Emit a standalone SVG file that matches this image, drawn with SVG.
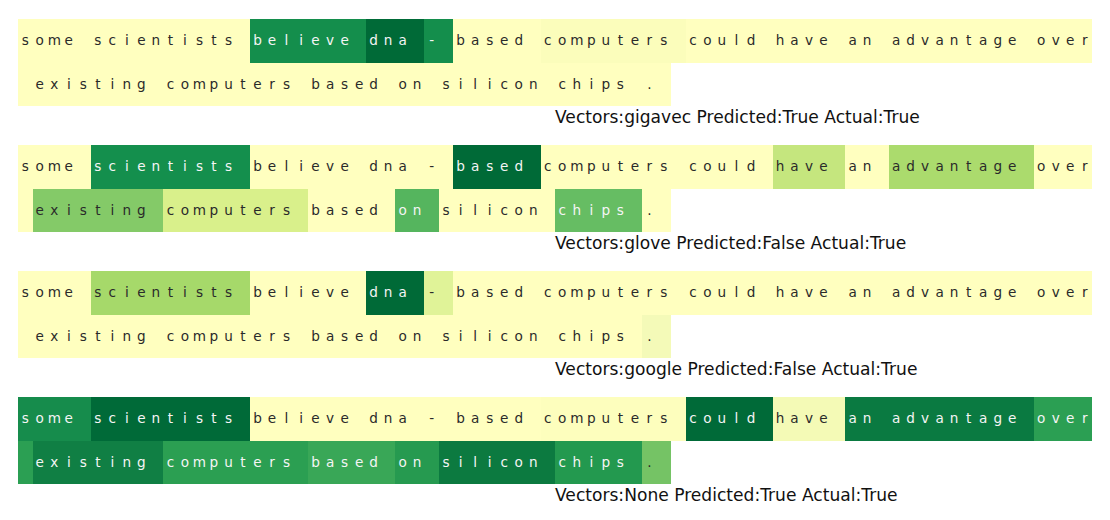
<svg xmlns="http://www.w3.org/2000/svg" width="1110" height="520" viewBox="0 0 1110 520">
<style>
text{font-family:"DejaVu Sans","Liberation Sans",sans-serif}
.t{font-size:13.6px;text-anchor:middle}
.d{fill:#2a2a2a}
.w{fill:#f5f5f5}
.cap{font-size:17.1px;fill:#111}
.Y{fill:#ffffbf}
rect{stroke:none;shape-rendering:crispEdges}
</style>
<rect width="1110" height="520" fill="#ffffff"/>

<g id="row-gigavec" transform="translate(0,19)">
<g id="r1-some"><rect class="Y" x="18" y="0" width="72.57" height="43.7"/><text class="t d" x="25.26 39.77 54.29 68.80" y="26.3">some</text></g>
<g id="r1-scientists"><rect class="Y" x="90.57" y="0" width="159.65" height="43.7"/><text class="t d" x="97.83 112.34 126.86 141.37 155.89 170.40 184.91 199.43 213.94 228.46" y="26.3">scientists</text></g>
<g id="r1-believe"><rect fill="#148e4c" x="250.22" y="0" width="116.12" height="43.7"/><text class="t w" x="257.48 272.00 286.51 301.03 315.54 330.05 344.57" y="26.3">believe</text></g>
<g id="r1-dna"><rect fill="#006a37" x="366.34" y="0" width="58.05" height="43.7"/><text class="t w" x="373.60 388.11 402.62" y="26.3">dna</text></g>
<g id="r1-hyphen"><rect fill="#148e4c" x="424.39" y="0" width="29.03" height="43.7"/><text class="t w" x="431.65" y="26.3">-</text></g>
<g id="r1-based"><rect class="Y" x="453.42" y="0" width="87.08" height="43.7"/><text class="t d" x="460.68 475.19 489.71 504.22 518.74" y="26.3">based</text></g>
<g id="r1-computers"><rect fill="#fbfdbb" x="540.50" y="0" width="145.14" height="43.7"/><text class="t d" x="547.76 562.28 576.79 591.31 605.82 620.33 634.85 649.36 663.88" y="26.3">computers</text></g>
<g id="r1-could"><rect class="Y" x="685.64" y="0" width="87.09" height="43.7"/><text class="t d" x="692.90 707.42 721.93 736.45 750.96" y="26.3">could</text></g>
<g id="r1-have"><rect class="Y" x="772.73" y="0" width="72.57" height="43.7"/><text class="t d" x="779.99 794.50 809.02 823.53" y="26.3">have</text></g>
<g id="r1-an"><rect class="Y" x="845.30" y="0" width="43.54" height="43.7"/><text class="t d" x="852.56 867.07" y="26.3">an</text></g>
<g id="r1-advantage"><rect class="Y" x="888.84" y="0" width="145.14" height="43.7"/><text class="t d" x="896.10 910.61 925.13 939.64 954.16 968.67 983.18 997.70 1012.21" y="26.3">advantage</text></g>
<g id="r1-over"><rect class="Y" x="1033.98" y="0" width="58.06" height="43.7"/><rect class="Y" x="18" y="43.7" width="14.51" height="43.7"/><text class="t d" x="1041.24 1055.75 1070.27 1084.78" y="26.3">over</text></g>
<g id="r1-existing"><rect class="Y" x="32.51" y="43.7" width="130.63" height="43.7"/><text class="t d" x="39.77 54.29 68.80 83.32 97.83 112.34 126.86 141.37" y="70.3">existing</text></g>
<g id="r1-computers2"><rect class="Y" x="163.14" y="43.7" width="145.14" height="43.7"/><text class="t d" x="170.40 184.91 199.43 213.94 228.46 242.97 257.48 272.00 286.51" y="70.3">computers</text></g>
<g id="r1-based2"><rect class="Y" x="308.28" y="43.7" width="87.08" height="43.7"/><text class="t d" x="315.54 330.05 344.57 359.08 373.60" y="70.3">based</text></g>
<g id="r1-on"><rect class="Y" x="395.36" y="43.7" width="43.55" height="43.7"/><text class="t d" x="402.62 417.14" y="70.3">on</text></g>
<g id="r1-silicon"><rect class="Y" x="438.91" y="43.7" width="116.11" height="43.7"/><text class="t d" x="446.17 460.68 475.19 489.71 504.22 518.74 533.25" y="70.3">silicon</text></g>
<g id="r1-chips"><rect class="Y" x="555.02" y="43.7" width="87.08" height="43.7"/><text class="t d" x="562.28 576.79 591.31 605.82 620.33" y="70.3">chips</text></g>
<g id="r1-period"><rect class="Y" x="642.10" y="43.7" width="29.03" height="43.7"/><text class="t d" x="649.36" y="70.3">.</text></g>
<text class="cap" x="555" y="103.7">Vectors:gigavec Predicted:True Actual:True</text>
</g>

<g id="row-glove" transform="translate(0,145)">
<g id="r2-some"><rect class="Y" x="18" y="0" width="72.57" height="43.7"/><text class="t d" x="25.26 39.77 54.29 68.80" y="26.3">some</text></g>
<g id="r2-scientists"><rect fill="#148f4d" x="90.57" y="0" width="159.65" height="43.7"/><text class="t w" x="97.83 112.34 126.86 141.37 155.89 170.40 184.91 199.43 213.94 228.46" y="26.3">scientists</text></g>
<g id="r2-believe"><rect class="Y" x="250.22" y="0" width="116.12" height="43.7"/><text class="t d" x="257.48 272.00 286.51 301.03 315.54 330.05 344.57" y="26.3">believe</text></g>
<g id="r2-dna"><rect class="Y" x="366.34" y="0" width="58.05" height="43.7"/><text class="t d" x="373.60 388.11 402.62" y="26.3">dna</text></g>
<g id="r2-hyphen"><rect class="Y" x="424.39" y="0" width="29.03" height="43.7"/><text class="t d" x="431.65" y="26.3">-</text></g>
<g id="r2-based"><rect fill="#006a37" x="453.42" y="0" width="87.08" height="43.7"/><text class="t w" x="460.68 475.19 489.71 504.22 518.74" y="26.3">based</text></g>
<g id="r2-computers"><rect class="Y" x="540.50" y="0" width="145.14" height="43.7"/><text class="t d" x="547.76 562.28 576.79 591.31 605.82 620.33 634.85 649.36 663.88" y="26.3">computers</text></g>
<g id="r2-could"><rect class="Y" x="685.64" y="0" width="87.09" height="43.7"/><text class="t d" x="692.90 707.42 721.93 736.45 750.96" y="26.3">could</text></g>
<g id="r2-have"><rect fill="#c5e67e" x="772.73" y="0" width="72.57" height="43.7"/><text class="t d" x="779.99 794.50 809.02 823.53" y="26.3">have</text></g>
<g id="r2-an"><rect class="Y" x="845.30" y="0" width="43.54" height="43.7"/><text class="t d" x="852.56 867.07" y="26.3">an</text></g>
<g id="r2-advantage"><rect fill="#abdb6d" x="888.84" y="0" width="145.14" height="43.7"/><text class="t d" x="896.10 910.61 925.13 939.64 954.16 968.67 983.18 997.70 1012.21" y="26.3">advantage</text></g>
<g id="r2-over"><rect class="Y" x="1033.98" y="0" width="58.06" height="43.7"/><rect class="Y" x="18" y="43.7" width="14.51" height="43.7"/><text class="t d" x="1041.24 1055.75 1070.27 1084.78" y="26.3">over</text></g>
<g id="r2-existing"><rect fill="#84ca68" x="32.51" y="43.7" width="130.63" height="43.7"/><text class="t d" x="39.77 54.29 68.80 83.32 97.83 112.34 126.86 141.37" y="70.3">existing</text></g>
<g id="r2-computers2"><rect fill="#d9f08b" x="163.14" y="43.7" width="145.14" height="43.7"/><text class="t d" x="170.40 184.91 199.43 213.94 228.46 242.97 257.48 272.00 286.51" y="70.3">computers</text></g>
<g id="r2-based2"><rect class="Y" x="308.28" y="43.7" width="87.08" height="43.7"/><text class="t d" x="315.54 330.05 344.57 359.08 373.60" y="70.3">based</text></g>
<g id="r2-on"><rect fill="#55b55e" x="395.36" y="43.7" width="43.55" height="43.7"/><text class="t w" x="402.62 417.14" y="70.3">on</text></g>
<g id="r2-silicon"><rect class="Y" x="438.91" y="43.7" width="116.11" height="43.7"/><text class="t d" x="446.17 460.68 475.19 489.71 504.22 518.74 533.25" y="70.3">silicon</text></g>
<g id="r2-chips"><rect fill="#66bd63" x="555.02" y="43.7" width="87.08" height="43.7"/><text class="t w" x="562.28 576.79 591.31 605.82 620.33" y="70.3">chips</text></g>
<g id="r2-period"><rect class="Y" x="642.10" y="43.7" width="29.03" height="43.7"/><text class="t d" x="649.36" y="70.3">.</text></g>
<text class="cap" x="555" y="103.7">Vectors:glove Predicted:False Actual:True</text>
</g>

<g id="row-google" transform="translate(0,271)">
<g id="r3-some"><rect class="Y" x="18" y="0" width="72.57" height="43.7"/><text class="t d" x="25.26 39.77 54.29 68.80" y="26.3">some</text></g>
<g id="r3-scientists"><rect fill="#a6d96a" x="90.57" y="0" width="159.65" height="43.7"/><text class="t d" x="97.83 112.34 126.86 141.37 155.89 170.40 184.91 199.43 213.94 228.46" y="26.3">scientists</text></g>
<g id="r3-believe"><rect class="Y" x="250.22" y="0" width="116.12" height="43.7"/><text class="t d" x="257.48 272.00 286.51 301.03 315.54 330.05 344.57" y="26.3">believe</text></g>
<g id="r3-dna"><rect fill="#006a37" x="366.34" y="0" width="58.05" height="43.7"/><text class="t w" x="373.60 388.11 402.62" y="26.3">dna</text></g>
<g id="r3-hyphen"><rect fill="#e0f398" x="424.39" y="0" width="29.03" height="43.7"/><text class="t d" x="431.65" y="26.3">-</text></g>
<g id="r3-based"><rect class="Y" x="453.42" y="0" width="87.08" height="43.7"/><text class="t d" x="460.68 475.19 489.71 504.22 518.74" y="26.3">based</text></g>
<g id="r3-computers"><rect class="Y" x="540.50" y="0" width="145.14" height="43.7"/><text class="t d" x="547.76 562.28 576.79 591.31 605.82 620.33 634.85 649.36 663.88" y="26.3">computers</text></g>
<g id="r3-could"><rect class="Y" x="685.64" y="0" width="87.09" height="43.7"/><text class="t d" x="692.90 707.42 721.93 736.45 750.96" y="26.3">could</text></g>
<g id="r3-have"><rect class="Y" x="772.73" y="0" width="72.57" height="43.7"/><text class="t d" x="779.99 794.50 809.02 823.53" y="26.3">have</text></g>
<g id="r3-an"><rect class="Y" x="845.30" y="0" width="43.54" height="43.7"/><text class="t d" x="852.56 867.07" y="26.3">an</text></g>
<g id="r3-advantage"><rect class="Y" x="888.84" y="0" width="145.14" height="43.7"/><text class="t d" x="896.10 910.61 925.13 939.64 954.16 968.67 983.18 997.70 1012.21" y="26.3">advantage</text></g>
<g id="r3-over"><rect class="Y" x="1033.98" y="0" width="58.06" height="43.7"/><rect class="Y" x="18" y="43.7" width="14.51" height="43.7"/><text class="t d" x="1041.24 1055.75 1070.27 1084.78" y="26.3">over</text></g>
<g id="r3-existing"><rect class="Y" x="32.51" y="43.7" width="130.63" height="43.7"/><text class="t d" x="39.77 54.29 68.80 83.32 97.83 112.34 126.86 141.37" y="70.3">existing</text></g>
<g id="r3-computers2"><rect class="Y" x="163.14" y="43.7" width="145.14" height="43.7"/><text class="t d" x="170.40 184.91 199.43 213.94 228.46 242.97 257.48 272.00 286.51" y="70.3">computers</text></g>
<g id="r3-based2"><rect class="Y" x="308.28" y="43.7" width="87.08" height="43.7"/><text class="t d" x="315.54 330.05 344.57 359.08 373.60" y="70.3">based</text></g>
<g id="r3-on"><rect class="Y" x="395.36" y="43.7" width="43.55" height="43.7"/><text class="t d" x="402.62 417.14" y="70.3">on</text></g>
<g id="r3-silicon"><rect class="Y" x="438.91" y="43.7" width="116.11" height="43.7"/><text class="t d" x="446.17 460.68 475.19 489.71 504.22 518.74 533.25" y="70.3">silicon</text></g>
<g id="r3-chips"><rect class="Y" x="555.02" y="43.7" width="87.08" height="43.7"/><text class="t d" x="562.28 576.79 591.31 605.82 620.33" y="70.3">chips</text></g>
<g id="r3-period"><rect fill="#f4fab8" x="642.10" y="43.7" width="29.03" height="43.7"/><text class="t d" x="649.36" y="70.3">.</text></g>
<text class="cap" x="555" y="103.7">Vectors:google Predicted:False Actual:True</text>
</g>

<g id="row-none" transform="translate(0,397)">
<g id="r4-some"><rect fill="#168c4c" x="18" y="0" width="72.57" height="43.7"/><text class="t w" x="25.26 39.77 54.29 68.80" y="26.3">some</text></g>
<g id="r4-scientists"><rect fill="#006a38" x="90.57" y="0" width="159.65" height="43.7"/><text class="t w" x="97.83 112.34 126.86 141.37 155.89 170.40 184.91 199.43 213.94 228.46" y="26.3">scientists</text></g>
<g id="r4-believe"><rect class="Y" x="250.22" y="0" width="116.12" height="43.7"/><text class="t d" x="257.48 272.00 286.51 301.03 315.54 330.05 344.57" y="26.3">believe</text></g>
<g id="r4-dna"><rect class="Y" x="366.34" y="0" width="58.05" height="43.7"/><text class="t d" x="373.60 388.11 402.62" y="26.3">dna</text></g>
<g id="r4-hyphen"><rect class="Y" x="424.39" y="0" width="29.03" height="43.7"/><text class="t d" x="431.65" y="26.3">-</text></g>
<g id="r4-based"><rect class="Y" x="453.42" y="0" width="87.08" height="43.7"/><text class="t d" x="460.68 475.19 489.71 504.22 518.74" y="26.3">based</text></g>
<g id="r4-computers"><rect fill="#fdfebd" x="540.50" y="0" width="145.14" height="43.7"/><text class="t d" x="547.76 562.28 576.79 591.31 605.82 620.33 634.85 649.36 663.88" y="26.3">computers</text></g>
<g id="r4-could"><rect fill="#006a38" x="685.64" y="0" width="87.09" height="43.7"/><text class="t w" x="692.90 707.42 721.93 736.45 750.96" y="26.3">could</text></g>
<g id="r4-have"><rect fill="#f4fab6" x="772.73" y="0" width="72.57" height="43.7"/><text class="t d" x="779.99 794.50 809.02 823.53" y="26.3">have</text></g>
<g id="r4-an"><rect fill="#0a7a41" x="845.30" y="0" width="43.54" height="43.7"/><text class="t w" x="852.56 867.07" y="26.3">an</text></g>
<g id="r4-advantage"><rect fill="#0a7a41" x="888.84" y="0" width="145.14" height="43.7"/><text class="t w" x="896.10 910.61 925.13 939.64 954.16 968.67 983.18 997.70 1012.21" y="26.3">advantage</text></g>
<g id="r4-over"><rect fill="#2b9f53" x="1033.98" y="0" width="58.06" height="43.7"/><rect fill="#2b9f53" x="18" y="43.7" width="14.51" height="43.7"/><text class="t w" x="1041.24 1055.75 1070.27 1084.78" y="26.3">over</text></g>
<g id="r4-existing"><rect fill="#107f44" x="32.51" y="43.7" width="130.63" height="43.7"/><text class="t w" x="39.77 54.29 68.80 83.32 97.83 112.34 126.86 141.37" y="70.3">existing</text></g>
<g id="r4-computers2"><rect fill="#2b9f52" x="163.14" y="43.7" width="145.14" height="43.7"/><text class="t w" x="170.40 184.91 199.43 213.94 228.46 242.97 257.48 272.00 286.51" y="70.3">computers</text></g>
<g id="r4-based2"><rect fill="#39a757" x="308.28" y="43.7" width="87.08" height="43.7"/><text class="t w" x="315.54 330.05 344.57 359.08 373.60" y="70.3">based</text></g>
<g id="r4-on"><rect fill="#269a50" x="395.36" y="43.7" width="43.55" height="43.7"/><text class="t w" x="402.62 417.14" y="70.3">on</text></g>
<g id="r4-silicon"><rect fill="#0c7a40" x="438.91" y="43.7" width="116.11" height="43.7"/><text class="t w" x="446.17 460.68 475.19 489.71 504.22 518.74 533.25" y="70.3">silicon</text></g>
<g id="r4-chips"><rect fill="#23994f" x="555.02" y="43.7" width="87.08" height="43.7"/><text class="t w" x="562.28 576.79 591.31 605.82 620.33" y="70.3">chips</text></g>
<g id="r4-period"><rect fill="#75c365" x="642.10" y="43.7" width="29.03" height="43.7"/><text class="t d" x="649.36" y="70.3">.</text></g>
<text class="cap" x="555" y="103.7">Vectors:None Predicted:True Actual:True</text>
</g>

<g id="connectors"/>
</svg>
